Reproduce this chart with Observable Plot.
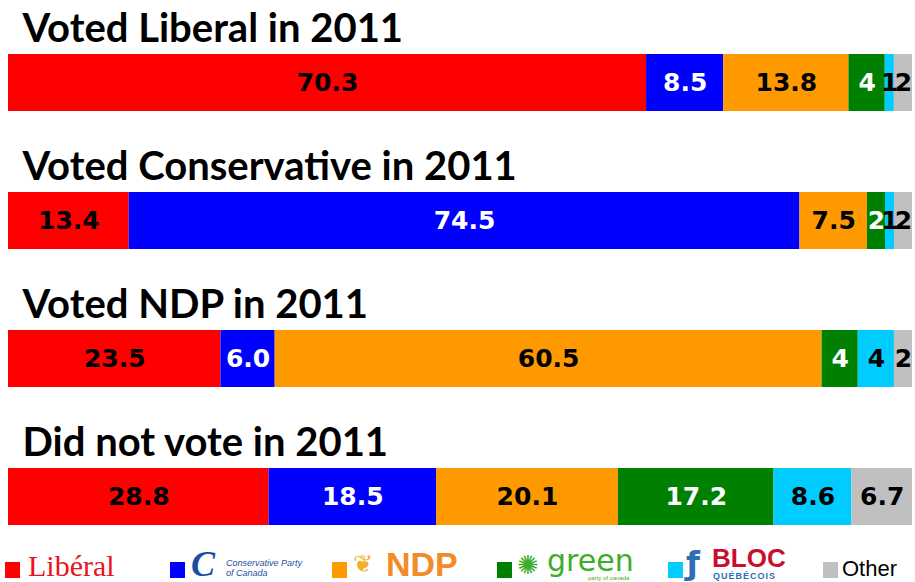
<!DOCTYPE html>
<html>
<head>
<meta charset="utf-8">
<script src="https://cdn.jsdelivr.net/npm/d3@7"></script>
<script src="https://cdn.jsdelivr.net/npm/@observablehq/plot@0.6"></script>
<style>
  html, body { margin: 0; padding: 0; background: #fff; }
  #chart { width: 915px; height: 530px; }
  #legend { position: relative; width: 915px; height: 52px; font-family: "Liberation Sans", sans-serif; }
  #legend .sq { position: absolute; top: 32px; width: 15px; height: 16px; }
  #legend .t { position: absolute; white-space: nowrap; line-height: 1; }
</style>
</head>
<body>
<div id="chart"></div>
<div id="legend"></div>
<script>
const rows = ["Voted Liberal in 2011", "Voted Conservative in 2011", "Voted NDP in 2011", "Did not vote in 2011"];
const parties = ["Liberal", "Conservative", "NDP", "Green", "Bloc", "Other"];
const colors = ["#FF0000", "#0000FF", "#FF9900", "#008000", "#00CCFF", "#C0C0C0"];
const whiteText = ["Conservative", "Green"];

const liberalVals = [70.3, 8.5, 13.8, 4, 1, 2];
const liberalLabels = ["70.3", "8.5", "13.8", "4", "1", "2"];
const conservativeVals = [13.4, 74.5, 7.5, 2, 1, 2];
const conservativeLabels = ["13.4", "74.5", "7.5", "2", "1", "2"];
const ndpVals = [23.5, 6.0, 60.5, 4, 4, 2];
const ndpLabels = ["23.5", "6.0", "60.5", "4", "4", "2"];
const nonVoterVals = [28.8, 18.5, 20.1, 17.2, 8.6, 6.7];
const nonVoterLabels = ["28.8", "18.5", "20.1", "17.2", "8.6", "6.7"];

const seriesVals = [liberalVals, conservativeVals, ndpVals, nonVoterVals];
const seriesLabels = [liberalLabels, conservativeLabels, ndpLabels, nonVoterLabels];

const data = [];
rows.forEach((r, i) => parties.forEach((p, j) => data.push({row: r, party: p, value: seriesVals[i][j], label: seriesLabels[i][j]})));

const labelFont = {fontFamily: "DejaVu Sans", fontWeight: "bold", fontSize: 25};

const plot = Plot.plot({
  width: 915,
  height: 530,
  marginLeft: 8,
  marginRight: 3,
  marginTop: 0,
  marginBottom: 0,
  x: {axis: null},
  y: {axis: null, domain: rows, range: [53, 525], paddingInner: 0.587, paddingOuter: 0},
  color: {domain: parties, range: colors},
  marks: [
    Plot.barX(data, Plot.stackX({x: "value", y: "row", fill: "party", offset: "normalize"})),
    Plot.text(data, Plot.stackX({x: "value", y: "row", text: d => whiteText.includes(d.party) ? "" : d.label, offset: "normalize", fill: "black", ...labelFont})),
    Plot.text(data, Plot.stackX({x: "value", y: "row", text: d => whiteText.includes(d.party) ? d.label : "", offset: "normalize", fill: "white", ...labelFont})),
    Plot.text(rows, {y: d => d, frameAnchor: "left", text: d => d, textAnchor: "start", dx: 14, dy: -54, fill: "black", fontFamily: "Lato", fontWeight: "bold", fontSize: 40})
  ]
});
document.getElementById("chart").appendChild(plot);

// Legend
const legend = document.getElementById("legend");
const items = [
  {x: 5, c: colors[0], html: '<span class="t" style="left:28px;top:21px;font-family:\'Liberation Serif\',serif;font-size:30px;color:#E8141B;">Libéral</span>'},
  {x: 170, c: colors[1], html: '<span class="t" style="left:191px;top:16px;font-family:\'Liberation Serif\',serif;font-style:italic;font-weight:bold;font-size:36px;color:#1A4FA0;padding-right:4px;">C</span><span class="t" style="left:226px;top:28px;font-size:9px;line-height:10px;color:#1A4FA0;font-style:italic;">Conservative Party<br>of Canada</span>'},
  {x: 332, c: colors[2], html: '<span class="t" style="left:353px;top:22px;font-size:24px;color:#F2B02A;">&#x2766;</span><span class="t" style="left:386px;top:17px;font-family:\'Liberation Sans Narrow\',sans-serif;font-weight:bold;font-size:34px;color:#F28C28;">NDP</span>'},
  {x: 497, c: colors[3], html: '<span class="t" style="left:517px;top:22px;font-size:26px;color:#3DAE2B;">&#x273A;</span><span class="t" style="left:547px;top:18px;font-family:\'DejaVu Sans\',sans-serif;font-size:30px;line-height:26px;color:#3DAE2B;">green</span><span class="t" style="left:588px;top:45px;font-size:6px;color:#3DAE2B;">party of canada</span>'},
  {x: 668, c: colors[4], html: '<span class="t" style="left:686px;top:17px;font-family:\'DejaVu Sans\',sans-serif;font-weight:bold;font-size:32px;color:#2D6FB5;">&#x0192;</span><span class="t" style="left:712px;top:15px;font-family:\'Liberation Sans\',sans-serif;font-weight:bold;font-size:26px;color:#C8102E;">BLOC</span><span class="t" style="left:713px;top:42px;font-family:\'Liberation Sans\',sans-serif;font-weight:bold;font-size:9px;color:#2D6FB5;letter-spacing:1px;">QUÉBÉCOIS</span>'},
  {x: 823, c: colors[5], html: '<span class="t" style="left:842px;top:28px;font-family:\'Liberation Sans Narrow\',sans-serif;font-size:22px;color:#000;">Other</span>'}
];
let html = "";
for (const it of items) {
  html += `<div class="sq" style="left:${it.x}px;background:${it.c};"></div>` + it.html;
}
legend.innerHTML = html;
</script>
</body>
</html>
